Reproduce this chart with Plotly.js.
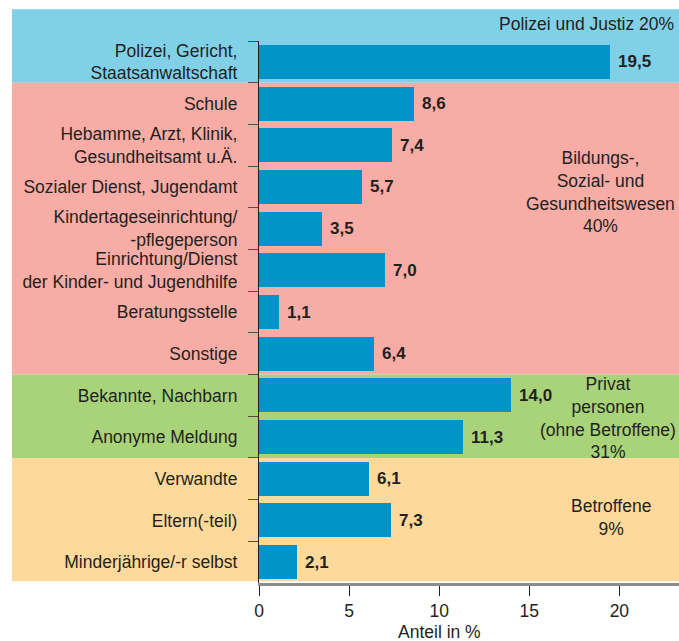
<!DOCTYPE html>
<html>
<head>
<meta charset="utf-8">
<script src="https://cdn.plot.ly/plotly-3.0.1.min.js"></script>
<style>html,body{margin:0;padding:0;background:#fff;}#chart{width:679px;height:641px;}</style>
</head>
<body>
<div id="chart"></div>
<script>
// Data
var categories = [
  "Polizei, Gericht,<br>Staatsanwaltschaft",
  "Schule",
  "Hebamme, Arzt, Klinik,<br>Gesundheitsamt u.Ä.",
  "Sozialer Dienst, Jugendamt",
  "Kindertageseinrichtung/<br>-pflegeperson",
  "Einrichtung/Dienst<br>der Kinder- und Jugendhilfe",
  "Beratungsstelle",
  "Sonstige",
  "Bekannte, Nachbarn",
  "Anonyme Meldung",
  "Verwandte",
  "Eltern(-teil)",
  "Minderjährige/-r selbst"
];
var values = [19.5, 8.6, 7.4, 5.7, 3.5, 7.0, 1.1, 6.4, 14.0, 11.3, 6.1, 7.3, 2.1];
var groupLabels = [
  "Polizei und Justiz 20%",
  "Bildungs-,<br>Sozial- und<br>Gesundheitswesen<br>40%",
  "Privat<br>personen<br>(ohne Betroffene)<br>31%",
  "Betroffene<br>9%"
];
var groupFirst = [0, 1, 8, 10];
var groupLast = [0, 7, 9, 12];
var xTicks = [0, 5, 10, 15, 20];
var xTitle = "Anteil in %";

// Styles
var FONT = "Liberation Sans, Arial, Helvetica, sans-serif";
var TXT = "#231f20";
var groupColors = ["#80d1e8", "#f7aca5", "#a8d379", "#fdda9b"];
var nCat = categories.length;
function paperY(boundary) { return 1 - (boundary + 0.5) / nCat; }

var shapes = [];
for (var g = 0; g < groupLabels.length; g++) {
  var bandTop = (g === 0) ? 1.0585 : paperY(groupFirst[g] - 0.5);
  var bandBot = (g === groupLabels.length - 1) ? 0.003 : paperY(groupLast[g] + 0.5);
  shapes.push({type: "rect", xref: "paper", yref: "paper", x0: -0.588, x1: 1.0,
    y0: bandBot, y1: bandTop, fillcolor: groupColors[g], line: {width: 0}, layer: "below"});
}

var annotations = [];
for (var i = 0; i < nCat; i++) {
  annotations.push({x: values[i], y: paperY(i), xref: "x", yref: "paper",
    text: "<b>" + values[i].toFixed(1).replace(".", ",") + "</b>",
    showarrow: false, xanchor: "left", yanchor: "middle", xshift: 6,
    font: {family: FONT, size: 17, color: TXT}});
}
var gPos = [
  {x: 0.993, y: 1.0308, xanchor: "right", align: "right"},
  {x: 0.814, y: 0.721, xanchor: "center", align: "center"},
  {x: 0.831, y: 0.304, xanchor: "center", align: "center"},
  {x: 0.838, y: 0.1217, xanchor: "center", align: "center"}
];
for (var g2 = 0; g2 < groupLabels.length; g2++) {
  annotations.push({x: gPos[g2].x, y: gPos[g2].y, xref: "paper", yref: "paper",
    text: groupLabels[g2], showarrow: false, xanchor: gPos[g2].xanchor, yanchor: "middle",
    align: gPos[g2].align, font: {family: FONT, size: 17.5, color: TXT}});
}
annotations.push({x: 10, y: -0.0904, xref: "x", yref: "paper", text: xTitle,
  showarrow: false, xanchor: "center", yanchor: "middle",
  font: {family: FONT, size: 17.5, color: TXT}});

var trace = {
  type: "bar", orientation: "h", x: values, y: categories,
  marker: {color: "#0094c8", line: {width: 0}}, width: 0.815,
  hoverinfo: "skip"
};

var layout = {
  width: 679, height: 641,
  margin: {l: 259, r: 0, t: 41, b: 58, pad: 0},
  paper_bgcolor: "#ffffff", plot_bgcolor: "rgba(0,0,0,0)",
  showlegend: false,
  font: {family: FONT, size: 17.5, color: TXT},
  xaxis: {range: [0, 23.31], tickmode: "array", tickvals: xTicks,
    showgrid: false, zeroline: false, showline: true, linecolor: "#8c8c8c", linewidth: 3,
    ticks: "outside", ticklen: 10, tickwidth: 1.2, tickcolor: "#231f20",
    tickfont: {family: FONT, size: 17.5, color: TXT}, fixedrange: true},
  yaxis: {type: "category", categoryorder: "array", categoryarray: categories,
    range: [nCat - 0.5, -0.5], showgrid: false, zeroline: false,
    showline: true, linecolor: "#231f20", linewidth: 1.2,
    ticks: "outside", tickson: "boundaries", ticklen: 10, tickwidth: 1.2, tickcolor: "#5a4a46",
    ticklabelstandoff: 17,
    tickfont: {family: FONT, size: 17.5, color: TXT}, fixedrange: true},
  shapes: shapes,
  annotations: annotations,
  bargap: 0
};

Plotly.newPlot("chart", [trace], layout, {displayModeBar: false});
</script>
</body>
</html>
